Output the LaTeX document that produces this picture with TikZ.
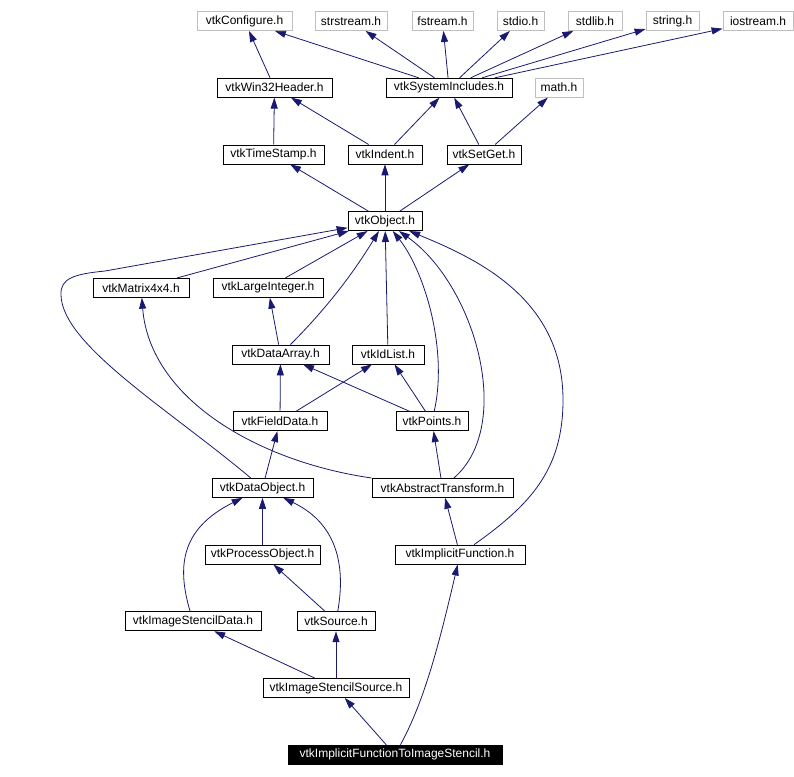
\documentclass[tikz,border=0pt]{standalone}
\usepackage{fontspec}
\setmainfont{Liberation Sans}
\usetikzlibrary{arrows.meta}
\definecolor{dedge}{HTML}{191970}
\definecolor{dgray}{HTML}{BFBFBF}
\tikzset{
  hbox/.style={draw=black, fill=white, line width=0.8pt, minimum height=19pt,
               inner xsep=2pt, inner ysep=0pt, font=\fontsize{12}{14}\selectfont},
  gbox/.style={hbox, draw=dgray},
  fbox/.style={hbox, fill=black, text=white},
  inc/.style={-{Triangle[length=11pt,width=7pt]}, dedge, line width=0.8pt},
}
\begin{document}
\begin{tikzpicture}[x=1pt, y=-1pt]
  \useasboundingbox (0,0) rectangle (794,776);

  %% system headers
  \node[gbox, minimum width=95pt] (conf)   at (244.5,21) {vtkConfigure.h};
  \node[gbox, minimum width=72pt] (strs)   at (351,21)   {strstream.h};
  \node[gbox, minimum width=61pt] (fstr)   at (442.5,21) {fstream.h};
  \node[gbox, minimum width=47pt] (stdio)  at (520.5,21) {stdio.h};
  \node[gbox, minimum width=54pt] (stdlib) at (595,21)   {stdlib.h};
  \node[gbox, minimum width=53pt] (str)    at (672.5,21) {string.h};
  \node[gbox, minimum width=70pt] (iostr)  at (758,21)   {iostream.h};
  \node[gbox, minimum width=48pt] (math)   at (559,87.7) {math.h};

  %% vtk headers
  \node[hbox, minimum width=115pt] (win32)  at (274.5,87.7) {vtkWin32Header.h};
  \node[hbox, minimum width=126pt] (sysinc) at (449,87.7)   {vtkSystemIncludes.h};
  \node[hbox, minimum width=101pt] (tstamp) at (273.5,154.4) {vtkTimeStamp.h};
  \node[hbox, minimum width=74pt]  (indent) at (385,154.4)   {vtkIndent.h};
  \node[hbox, minimum width=74pt]  (setget) at (484,154.4)   {vtkSetGet.h};
  \node[hbox, minimum width=74pt]  (object) at (385,221.1)   {vtkObject.h};
  \node[hbox, minimum width=96pt]  (matrix) at (141,287.8)   {vtkMatrix4x4.h};
  \node[hbox, minimum width=110pt] (lint)   at (268,287.8)   {vtkLargeInteger.h};
  \node[hbox, minimum width=97pt]  (darray) at (280.5,354.5) {vtkDataArray.h};
  \node[hbox, minimum width=72pt]  (idlist) at (388,354.5)   {vtkIdList.h};
  \node[hbox, minimum width=94pt]  (fdata)  at (280,421.2)   {vtkFieldData.h};
  \node[hbox, minimum width=72pt]  (points) at (432,421.2)   {vtkPoints.h};
  \node[hbox, minimum width=101pt] (dobj)   at (262.5,487.9) {vtkDataObject.h};
  \node[hbox, minimum width=141pt] (atrans) at (442.5,487.9) {vtkAbstractTransform.h};
  \node[hbox, minimum width=115pt] (pobj)   at (262.5,554.6) {vtkProcessObject.h};
  \node[hbox, minimum width=130pt] (ifunc)  at (460,554.6)   {vtkImplicitFunction.h};
  \node[hbox, minimum width=136pt] (sdata)  at (193,621.3)   {vtkImageStencilData.h};
  \node[hbox, minimum width=78pt]  (source) at (336,621.3)   {vtkSource.h};
  \node[hbox, minimum width=146pt] (ssrc)   at (336,688)     {vtkImageStencilSource.h};
  \node[fbox, minimum width=214pt] (target) at (395,754.7)   {vtkImplicitFunctionToImageStencil.h};

  %% includes
  \draw[inc] (win32) -- (conf);
  \foreach \h in {conf, strs, fstr, stdio, stdlib, str, iostr}
    \draw[inc] (sysinc) -- (\h);
  \draw[inc] (tstamp) -- (win32);
  \draw[inc] (indent) -- (win32);
  \draw[inc] (indent) -- (sysinc);
  \draw[inc] (setget) -- (sysinc);
  \draw[inc] (setget) -- (math);
  \foreach \h in {tstamp, indent, setget}
    \draw[inc] (object) -- (\h);
  \draw[inc] (matrix) -- (object);
  \draw[inc] (lint) -- (object);
  \draw[inc] (darray) .. controls (335,300) and (360,262) .. (object);
  \draw[inc] (idlist) -- (object);
  \draw[inc] (points) .. controls (448,350) and (425,272) .. (object);
  \draw[inc] (atrans) .. controls (515,425) and (475,285) .. (object);
  \draw[inc] (ifunc) .. controls (530,505) and (563,470) .. (563,400)
             .. controls (563,300) and (480,260) .. (object);
  \draw[inc] (dobj) .. controls (170,410) and (62,345) .. (61,295)
             .. controls (60,278) and (75,274) .. (105,271) -- (object);
  \draw[inc] (darray) -- (lint);
  \draw[inc] (fdata) -- (darray);
  \draw[inc] (fdata) -- (idlist);
  \draw[inc] (points) -- (darray);
  \draw[inc] (points) -- (idlist);
  \draw[inc] (dobj) -- (fdata);
  \draw[inc] (atrans.north west) .. controls (260,462) and (150,400) .. (matrix);
  \draw[inc] (atrans) -- (points);
  \draw[inc] (pobj) -- (dobj);
  \draw[inc] (sdata) .. controls (178,570) and (178,530) .. (dobj);
  \draw[inc] (source) .. controls (345,570) and (340,525) .. (dobj);
  \draw[inc] (source) -- (pobj);
  \draw[inc] (ifunc) -- (atrans);
  \draw[inc] (ssrc) -- (sdata);
  \draw[inc] (ssrc) -- (source);
  \draw[inc] (target) -- (ssrc);
  \draw[inc] (target) .. controls (425,700) and (440,640) .. (ifunc);

\end{tikzpicture}
\end{document}
